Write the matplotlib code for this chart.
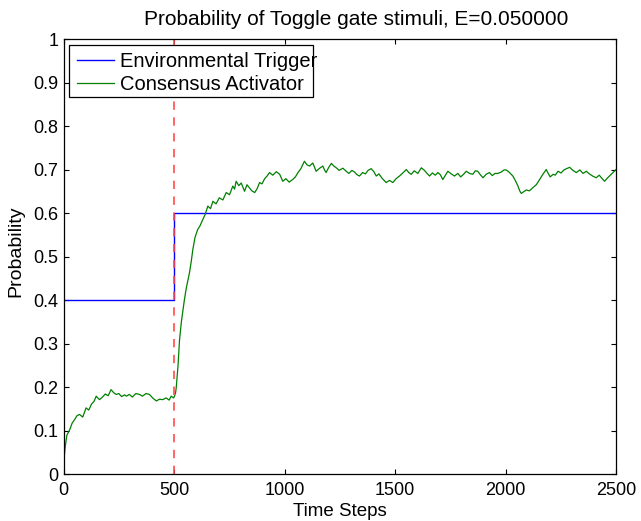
import matplotlib
matplotlib.use("Agg")
import matplotlib.pyplot as plt
from matplotlib.patches import Rectangle

plt.rcParams['font.family'] = ['Liberation Sans', 'DejaVu Sans']

# trigger: step input
trigger_steps = [0, 500, 500, 2500]
trigger_prob = [0.4, 0.4, 0.6, 0.6]

switch_step = 500

# consensus activator (10 per row in both lists)
steps = [0, 8, 15, 28, 39, 50, 61, 72, 87, 102,
         114, 127, 138, 148, 155, 163, 176, 189, 202, 215,
         227, 238, 250, 263, 276, 284, 298, 311, 327, 344,
         357, 373, 389, 403, 420, 434, 449, 464, 478, 487,
         498, 502, 507, 510, 518, 525, 533, 541, 547, 556,
         570, 578, 585, 595, 607, 618, 630, 641, 653, 665,
         676, 690, 705, 721, 736, 751, 766, 774, 781, 793,
         804, 812, 819, 830, 841, 852, 865, 876, 887, 898,
         910, 921, 932, 947, 963, 978, 992, 1006, 1021, 1037,
         1049, 1061, 1074, 1090, 1101, 1113, 1128, 1143, 1159, 1173,
         1181, 1188, 1200, 1212, 1223, 1234, 1247, 1264, 1279, 1291,
         1305, 1317, 1328, 1339, 1353, 1366, 1378, 1392, 1404, 1415,
         1427, 1441, 1460, 1475, 1490, 1505, 1520, 1535, 1551, 1562,
         1573, 1587, 1603, 1619, 1633, 1645, 1656, 1669, 1682, 1694,
         1705, 1716, 1728, 1739, 1754, 1769, 1784, 1797, 1810, 1822,
         1837, 1852, 1863, 1874, 1886, 1898, 1912, 1927, 1940, 1952,
         1965, 1980, 1993, 2003, 2016, 2033, 2045, 2056, 2064, 2071,
         2082, 2094, 2108, 2123, 2139, 2154, 2169, 2184, 2193, 2202,
         2215, 2225, 2237, 2251, 2264, 2276, 2290, 2305, 2320, 2336,
         2351, 2365, 2379, 2394, 2410, 2424, 2437, 2448, 2460, 2470,
         2484, 2492, 2500]
consensus = [0.025, 0.065, 0.090, 0.103, 0.118, 0.126, 0.135, 0.138, 0.132, 0.153,
             0.148, 0.162, 0.168, 0.180, 0.176, 0.172, 0.178, 0.185, 0.181, 0.195,
             0.188, 0.184, 0.186, 0.179, 0.183, 0.180, 0.184, 0.178, 0.186, 0.184,
             0.180, 0.186, 0.184, 0.176, 0.169, 0.173, 0.172, 0.176, 0.171, 0.180,
             0.176, 0.180, 0.188, 0.200, 0.250, 0.310, 0.350, 0.380, 0.402, 0.430,
             0.464, 0.490, 0.517, 0.545, 0.563, 0.572, 0.586, 0.598, 0.617, 0.611,
             0.628, 0.622, 0.636, 0.631, 0.648, 0.643, 0.663, 0.656, 0.674, 0.664,
             0.670, 0.660, 0.651, 0.666, 0.659, 0.652, 0.648, 0.657, 0.671, 0.668,
             0.680, 0.686, 0.694, 0.688, 0.696, 0.690, 0.674, 0.680, 0.672, 0.678,
             0.684, 0.694, 0.703, 0.720, 0.712, 0.709, 0.716, 0.697, 0.704, 0.709,
             0.700, 0.694, 0.706, 0.715, 0.709, 0.705, 0.699, 0.704, 0.697, 0.692,
             0.699, 0.695, 0.689, 0.686, 0.694, 0.691, 0.699, 0.703, 0.696, 0.686,
             0.691, 0.681, 0.671, 0.676, 0.671, 0.680, 0.686, 0.693, 0.701, 0.694,
             0.690, 0.698, 0.692, 0.705, 0.699, 0.692, 0.686, 0.693, 0.688, 0.694,
             0.689, 0.678, 0.688, 0.697, 0.691, 0.686, 0.692, 0.684, 0.690, 0.697,
             0.692, 0.690, 0.698, 0.697, 0.689, 0.682, 0.690, 0.694, 0.687, 0.692,
             0.692, 0.695, 0.700, 0.700, 0.695, 0.686, 0.675, 0.663, 0.652, 0.646,
             0.650, 0.654, 0.652, 0.659, 0.666, 0.678, 0.690, 0.701, 0.692, 0.684,
             0.690, 0.688, 0.697, 0.693, 0.700, 0.703, 0.706, 0.699, 0.694, 0.700,
             0.692, 0.697, 0.691, 0.686, 0.682, 0.688, 0.680, 0.674, 0.681, 0.686,
             0.693, 0.697, 0.701]

x_ticks = [0, 500, 1000, 1500, 2000, 2500]
y_ticks = [0, 0.1, 0.2, 0.3, 0.4, 0.5, 0.6, 0.7, 0.8, 0.9, 1]
y_labels = ['0', '0.1', '0.2', '0.3', '0.4', '0.5', '0.6', '0.7', '0.8', '0.9', '1']

fig = plt.figure(figsize=(6.41, 5.21), dpi=100)
ax = fig.add_axes([0.0991, 0.0893, 0.862, 0.835])

ax.plot(trigger_steps, trigger_prob, color='#0000ff', lw=1.0, label='Environmental Trigger')
ax.plot(steps, consensus, color='#008000', lw=0.9, label='Consensus Activator')
ax.axvline(switch_step, color='#ff4c4c', lw=1.2, ls=(0, (5, 4.5)))

ax.set_xlim(0, 2500)
ax.set_ylim(0, 1)
ax.set_xticks(x_ticks)
ax.set_yticks(y_ticks)
ax.set_yticklabels(y_labels)
ax.tick_params(direction='in', top=True, right=True, labelsize=13, length=3.6, width=0.8)
ax.tick_params(axis='x', pad=5.2)
ax.tick_params(axis='y', pad=3.7)
for s in ax.spines.values():
    s.set_linewidth(0.9)

# MATLAB-like placement of title and labels
ax.text(0.53, 1.0333, 'Probability of Toggle gate stimuli, E=0.050000', transform=ax.transAxes,
        ha='center', va='baseline', fontsize=15)
ax.set_xlabel('Time Steps', fontsize=13.5)
ax.xaxis.set_label_coords(0.5, -0.0946)
ax.xaxis.label.set_va('baseline')
ax.set_ylabel('Probability', fontsize=14)
ax.yaxis.set_label_coords(-0.086, 0.513)
ax.yaxis.label.set_va('center')

# legend box is drawn by hand so the long label can run past it like in the original
ax.add_patch(Rectangle((0.00995, 0.8678), 0.4416, 0.1195, transform=ax.transAxes,
                       facecolor='white', edgecolor='black', lw=0.9, zorder=4))
ax.legend(loc='upper left', bbox_to_anchor=(0.0244, 0.972), fontsize=14.5, frameon=False,
          borderpad=0, borderaxespad=0, handlelength=1.85, handletextpad=0.3,
          labelspacing=0.22).set_zorder(5)

fig.savefig('out.png', dpi=100)
